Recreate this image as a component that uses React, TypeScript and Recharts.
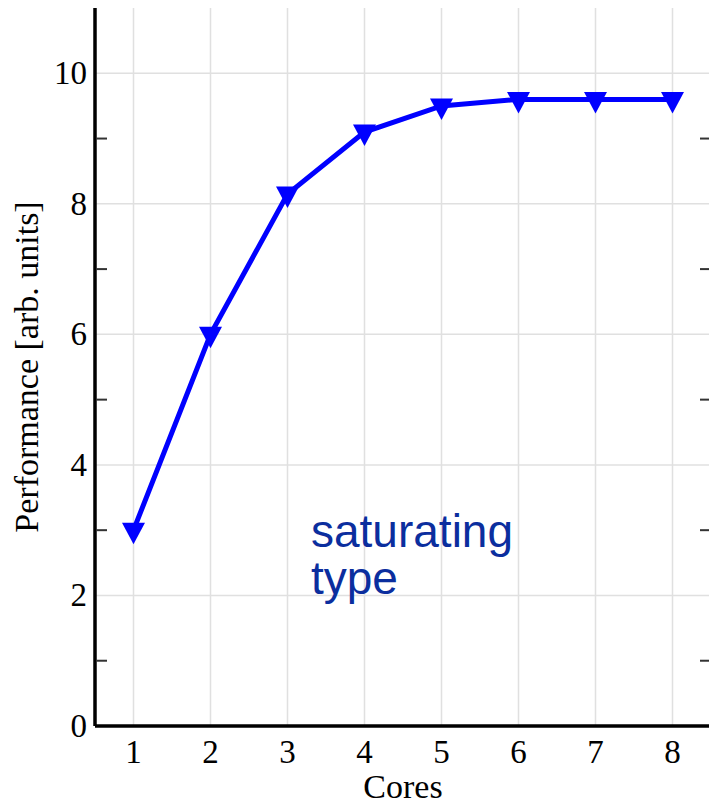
import React from 'react';
import { LineChart, Line, XAxis, YAxis, CartesianGrid } from 'recharts';

const cores = [1, 2, 3, 4, 5, 6, 7, 8];
const performance = [3.0, 6.0, 8.15, 9.1, 9.5, 9.6, 9.6, 9.6];
const xTicks = [1, 2, 3, 4, 5, 6, 7, 8];
const yMajorTicks = [0, 2, 4, 6, 8, 10];
const yMinorTicks = [1, 3, 5, 7, 9];
const yAllTicks = [0, 1, 2, 3, 4, 5, 6, 7, 8, 9, 10];
const xLabel = 'Cores';
const yLabel = 'Performance [arb. units]';
const noteLines = ['saturating', 'type'];

const data = cores.map((c, i) => ({ cores: c, perf: performance[i] }));

const SERIF = '"Liberation Serif", "DejaVu Serif", serif';
const SANS = '"Liberation Sans", Arial, sans-serif';

const CHART_W = 730;
const CHART_H = 804;
const MARGIN = { top: 8, right: 19, left: 0, bottom: 0 };
const Y_AXIS_W = 95;
const Y_TICK_MARGIN = 8;
const PLOT_LEFT = MARGIN.left + Y_AXIS_W;
const PLOT_RIGHT = CHART_W - MARGIN.right;
const MINOR_LEN = 11;

const TriangleDown = (props: any) => {
  const { cx, cy } = props;
  if (cx == null || cy == null) return null;
  const w = 11.5;
  return (
    <polygon
      points={`${cx - w},${cy - 7.5} ${cx + w},${cy - 7.5} ${cx},${cy + 14}`}
      fill="#0000ff"
      stroke="none"
    />
  );
};

// Y axis ticks: labels at major ticks, short inward marks (left and right frame) at minor ticks.
const YTick = (props: any) => {
  const { x, y, payload } = props;
  const v = payload?.value;
  if (yMinorTicks.includes(v)) {
    return (
      <g>
        <line
          x1={PLOT_LEFT + 1}
          x2={PLOT_LEFT + 1 + MINOR_LEN}
          y1={y}
          y2={y}
          stroke="#333"
          strokeWidth={2}
        />
        <line
          x1={PLOT_RIGHT - MINOR_LEN}
          x2={PLOT_RIGHT}
          y1={y}
          y2={y}
          stroke="#333"
          strokeWidth={2}
        />
      </g>
    );
  }
  return (
    <text x={x} y={y} dy={11} textAnchor="end" fontFamily={SERIF} fontSize={33} fill="#000">
      {v}
    </text>
  );
};

const YLabel = (props: any) => {
  const vb = props.viewBox || {};
  const x = (vb.x || 0) + 38;
  const y = (vb.y || 0) + (vb.height || 0) / 2;
  return (
    <text
      x={x}
      y={y}
      transform={`rotate(-90, ${x}, ${y})`}
      textAnchor="middle"
      fontFamily={SERIF}
      fontSize={34}
      fill="#000"
    >
      {yLabel}
    </text>
  );
};

const XLabel = (props: any) => {
  const vb = props.viewBox || {};
  const x = (vb.x || 0) + (vb.width || 0) / 2;
  const y = (vb.y || 0) + 72;
  return (
    <text x={x} y={y} textAnchor="middle" fontFamily={SERIF} fontSize={34} fill="#000">
      {xLabel}
    </text>
  );
};

const tickStyle = { fontFamily: SERIF, fontSize: 33, fill: '#000' };
const axisLineStyle = { stroke: '#000', strokeWidth: 3.5 };

export default function App() {
  return (
    <div
      style={{
        position: 'absolute',
        left: 0,
        top: 0,
        width: 709,
        height: 804,
        overflow: 'hidden',
        background: '#fff',
      }}
    >
      <LineChart width={CHART_W} height={CHART_H} data={data} margin={MARGIN}>
        <CartesianGrid
          stroke="#e0e0e0"
          strokeWidth={1.5}
          horizontalValues={yMajorTicks}
          verticalValues={xTicks}
        />
        <XAxis
          dataKey="cores"
          type="number"
          domain={[0.5, 8.5]}
          ticks={xTicks}
          tickLine={false}
          tickSize={0}
          tickMargin={14}
          axisLine={axisLineStyle}
          height={78}
          tick={tickStyle}
          label={<XLabel />}
        />
        <XAxis
          xAxisId="top"
          orientation="top"
          type="number"
          domain={[0.5, 8.5]}
          ticks={xTicks}
          tick={false}
          tickLine={false}
          axisLine={axisLineStyle}
          height={0}
        />
        <YAxis
          type="number"
          domain={[0, 11]}
          ticks={yAllTicks}
          interval={0}
          tickLine={false}
          tickSize={0}
          tickMargin={Y_TICK_MARGIN}
          axisLine={axisLineStyle}
          width={Y_AXIS_W}
          tick={<YTick />}
          label={<YLabel />}
        />
        <Line
          dataKey="perf"
          stroke="#0000ff"
          strokeWidth={5}
          dot={<TriangleDown />}
          activeDot={false}
          isAnimationActive={false}
        />
      </LineChart>
      {noteLines.map((l, i) => (
        <div
          key={l}
          style={{
            position: 'absolute',
            left: 311,
            top: 508 + i * 47,
            height: 46,
            fontFamily: SANS,
            fontSize: 46,
            lineHeight: '46px',
            color: '#0b2e9e',
            whiteSpace: 'nowrap',
          }}
        >
          {l}
        </div>
      ))}
    </div>
  );
}
